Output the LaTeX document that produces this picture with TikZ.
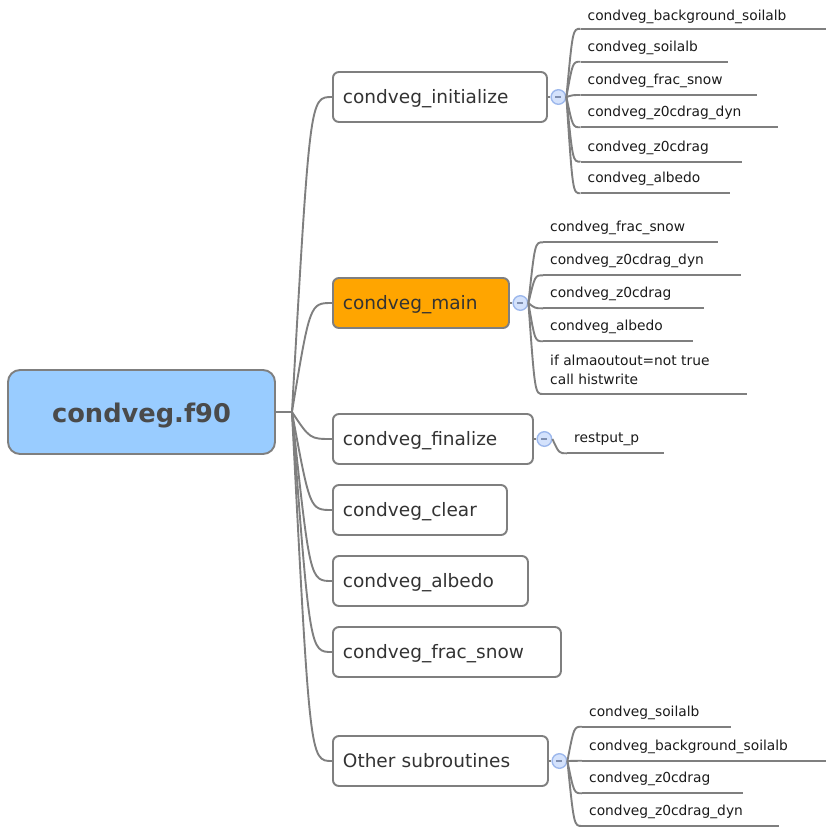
\documentclass[tikz,border=0pt]{standalone}
\usepackage{fontspec}
\setmainfont{DejaVu Sans}
\usetikzlibrary{calc}
\definecolor{linegray}{HTML}{7F7F7F}
\definecolor{rootfill}{HTML}{99CCFF}
\definecolor{rootText}{HTML}{4A4A4A}
\definecolor{mainfill}{HTML}{FFA500}
\definecolor{childText}{HTML}{333333}
\definecolor{leafText}{HTML}{1A1A1A}
\definecolor{togglefill}{HTML}{D4E2FC}
\definecolor{toggledraw}{HTML}{9DB8EC}
\definecolor{minuscol}{HTML}{7F8FB0}
\tikzset{
  conn/.style={draw=linegray, line width=1.9pt},
  branch/.style={to path={let \p1=(\tikztostart), \p2=(\tikztotarget) in
      .. controls ({\x1+0.45*(\x2-\x1)},\y2) .. (\tikztotarget)}},
  rootbox/.style={draw=linegray, line width=1.9pt, fill=rootfill, rounded corners=12pt,
      minimum width=267pt, minimum height=84pt, text height=20pt, text depth=0pt,
      font=\fontsize{25.7}{30}\selectfont\bfseries, text=rootText},
  childbox/.style={draw=linegray, line width=1.9pt, fill=white, rounded corners=6pt,
      anchor=west, inner xsep=10pt, inner ysep=0pt, minimum height=50pt, align=left,
      text height=13pt, text depth=0pt,
      font=\fontsize{18.5}{22}\selectfont, text=childText},
  toggle/.style={circle, minimum size=14.6pt, inner sep=0pt, fill=togglefill,
      draw=toggledraw, line width=1.4pt,
      path picture={\draw[minuscol, line width=1.3pt]
        ([xshift=-3pt]path picture bounding box.center) --
        ([xshift=3pt]path picture bounding box.center);}},
  leaf/.style={anchor=south west, inner xsep=7pt, inner ysep=0pt, text depth=10.5pt,
      font=\fontsize{13.8}{19}\selectfont, text=leafText}
}
\begin{document}
\begin{tikzpicture}[x=1pt,y=-1pt]
\useasboundingbox (0,0) rectangle (826,828);

% root
\node[rootbox] (root) at (141.5,412) {condveg.f90};
\coordinate (hub) at ($(root.east)+(16,0)$);

% children
\node[childbox, text width=194pt] (c1) at (332,97) {condveg\_initialize};
\node[childbox, text width=156pt, fill=mainfill] (c2) at (332,303) {condveg\_main};
\node[childbox, text width=180pt] (c3) at (332,439) {condveg\_finalize};
\node[childbox, text width=154pt] (c4) at (332,510) {condveg\_clear};
\node[childbox, text width=175pt] (c5) at (332,581) {condveg\_albedo};
\node[childbox, text width=208pt] (c6) at (332,652) {condveg\_frac\_snow};
\node[childbox, text width=195pt] (c7) at (332,761) {Other subroutines};

\draw[conn] (root.east) -- (hub);
\foreach \c in {c1,c2,c3,c4,c5,c6,c7}
  \draw[conn] (hub) to[branch] (\c.west);

% toggles
\node[toggle] (t1) at ($(c1.east)+(10.5,0)$) {};
\node[toggle] (t2) at ($(c2.east)+(10.5,0)$) {};
\node[toggle] (t3) at ($(c3.east)+(10.5,0)$) {};
\node[toggle] (t7) at ($(c7.east)+(10.5,0)$) {};
\draw[conn] (c1.east) -- (t1.west);
\draw[conn] (c2.east) -- (t2.west);
\draw[conn] (c3.east) -- (t3.west);
\draw[conn] (c7.east) -- (t7.west);

% leaves of condveg_initialize
\node[leaf, text depth=8.5pt] (l11) at (580.5,28.8) {condveg\_background\_soilalb};
\node[leaf] (l12) at (580.5,61.7) {condveg\_soilalb};
\node[leaf] (l13) at (580.5,95) {condveg\_frac\_snow};
\node[leaf] (l14) at (580.5,127.3) {condveg\_z0cdrag\_dyn};
\node[leaf] (l15) at (580.5,161.7) {condveg\_z0cdrag};
\node[leaf] (l16) at (580.5,193.3) {condveg\_albedo};
\foreach \l/\len in {l11/245.5, l12/147.5, l13/176.5, l14/197.5, l15/161.5, l16/149.5}{
  \draw[conn] (t1.east) to[branch] (\l.south west);
  \draw[conn] (\l.south west) -- ([xshift=\len pt]\l.south west);
}

% leaves of condveg_main
\node[leaf] (l21) at (543,242.3) {condveg\_frac\_snow};
\node[leaf] (l22) at (543,275.3) {condveg\_z0cdrag\_dyn};
\node[leaf] (l23) at (543,308.3) {condveg\_z0cdrag};
\node[leaf] (l24) at (543,341.3) {condveg\_albedo};
\node[leaf, align=left, text depth=9pt] (l25) at (543,394) {if almaoutout=not true\\call histwrite};
\foreach \l/\len in {l21/175, l22/197.7, l23/161, l24/149.7, l25/203.7}{
  \draw[conn] (t2.east) to[branch] (\l.south west);
  \draw[conn] (\l.south west) -- ([xshift=\len pt]\l.south west);
}

% leaf of condveg_finalize
\node[leaf] (l31) at (567,453.3) {restput\_p};
\draw[conn] (t3.east) to[branch] (l31.south west);
\draw[conn] (l31.south west) -- ([xshift=97pt]l31.south west);

% leaves of Other subroutines
\node[leaf] (l71) at (582,726.7) {condveg\_soilalb};
\node[leaf] (l72) at (582,760.7) {condveg\_background\_soilalb};
\node[leaf] (l73) at (582,793.3) {condveg\_z0cdrag};
\node[leaf] (l74) at (582,826) {condveg\_z0cdrag\_dyn};
\foreach \l/\len in {l71/148.7, l72/244, l73/161, l74/197}{
  \draw[conn] (t7.east) to[branch] (\l.south west);
  \draw[conn] (\l.south west) -- ([xshift=\len pt]\l.south west);
}
\end{tikzpicture}
\end{document}
